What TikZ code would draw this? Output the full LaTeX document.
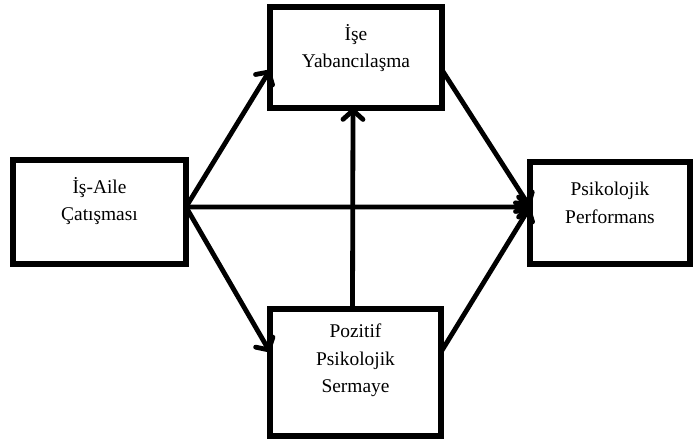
\documentclass[tikz,border=0pt]{standalone}
\usepackage{fontspec}
\setmainfont{Liberation Serif}
\usetikzlibrary{arrows.meta}
\begin{document}
\begin{tikzpicture}[x=1bp,y=-1bp,
  box/.style={draw, line width=5.5bp, rectangle, outer sep=0pt, inner sep=0pt, fill=white},
  lbl/.style={anchor=north, align=center, font=\fontsize{19.5}{27.5}\selectfont, inner sep=0pt},
  conn/.style={line width=4.8bp, line cap=round, -{Straight Barb[length=9bp,width=20bp,round]}}]
\useasboundingbox (0,0) rectangle (697,441);
\node[box, minimum width=173bp, minimum height=104bp,
  label={[lbl, yshift=-17bp]north:İş-Aile\\Çatışması}] (L) at (99.5,212) {};
\node[box, minimum width=172bp, minimum height=101bp,
  label={[lbl, yshift=-17bp]north:İşe\\Yabancılaşma}] (T) at (356,57.5) {};
\node[box, minimum width=160bp, minimum height=102bp,
  label={[lbl, yshift=-20bp]north:Psikolojik\\Performans}] (R) at (610,213) {};
\node[box, minimum width=171bp, minimum height=127bp,
  label={[lbl, yshift=-15bp]north:Pozitif\\Psikolojik\\Sermaye}] (B) at (355.5,372.5) {};
\draw[conn] ([yshift=5bp]L.east) -- ([yshift=-12.5bp]T.west);
\draw[conn] ([yshift=5bp]L.east) -- ([yshift=20.5bp]B.west);
\draw[conn] ([yshift=5bp]L.east) -- ([yshift=6bp]R.west);
\draw[conn] ([yshift=-12.5bp]T.east) -- ([yshift=6bp]R.west);
\draw[conn] ([yshift=20.5bp]B.east) -- ([yshift=6bp]R.west);
\draw[conn] ([xshift=-3bp]B.north) -- ([xshift=-3bp]T.south);
\end{tikzpicture}
\end{document}
